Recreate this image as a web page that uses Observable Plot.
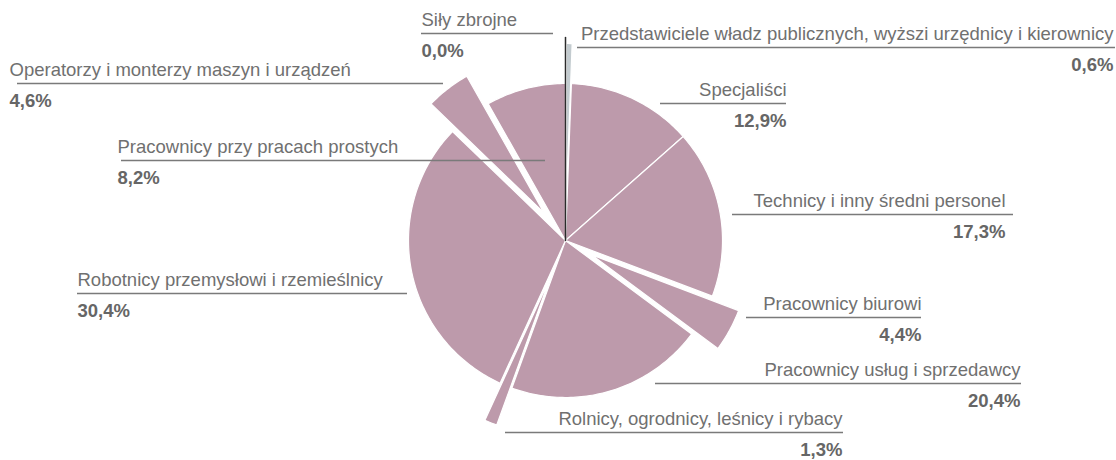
<!DOCTYPE html>
<html><head><meta charset="utf-8">
<script src="https://cdn.jsdelivr.net/npm/d3@7"></script>
<script src="https://cdn.jsdelivr.net/npm/@observablehq/plot@0.6"></script>
<style>body{margin:0;background:#fff}</style>
</head><body><div id="chart"></div>
<script>
// ---- data ----
const categories = [
  "Siły zbrojne",
  "Przedstawiciele władz publicznych, wyższi urzędnicy i kierownicy",
  "Specjaliści",
  "Technicy i inny średni personel",
  "Pracownicy biurowi",
  "Pracownicy usług i sprzedawcy",
  "Rolnicy, ogrodnicy, leśnicy i rybacy",
  "Robotnicy przemysłowi i rzemieślnicy",
  "Operatorzy i monterzy maszyn i urządzeń",
  "Pracownicy przy pracach prostych"
];
const shares = [0.0, 0.6, 12.9, 17.3, 4.4, 20.4, 1.3, 30.4, 4.6, 8.2];
const valueLabels = ["0,0%", "0,6%", "12,9%", "17,3%", "4,4%", "20,4%", "1,3%", "30,4%", "4,6%", "8,2%"];

// ---- styling / layout ----
const W = 1116, H = 460;
const cx = 565, cy = 240, R = 157;
const explode = [40, 40, 0, 0, 30, 0, 40, 0, 35, 0];
const sliceColors = ["#2b2b2b", "#c3cbcf", "#bd9aab", "#bd9aab", "#bd9aab", "#bd9aab", "#bd9aab", "#bd9aab", "#bd9aab", "#bd9aab"];
const labelLayout = [
  {align: "start", x: 421, ly: 33, lx1: 421, lx2: 553},
  {align: "end", x: 1113, ly: 47, lx1: 577, lx2: 1115},
  {align: "end", x: 786, ly: 103, lx1: 660, lx2: 786},
  {align: "end", x: 1005, ly: 214, lx1: 732, lx2: 1013},
  {align: "end", x: 921, ly: 317, lx1: 746, lx2: 921},
  {align: "end", x: 1020, ly: 383, lx1: 655, lx2: 1021},
  {align: "end", x: 842, ly: 432, lx1: 505, lx2: 843},
  {align: "start", x: 77, ly: 293, lx1: 77, lx2: 407},
  {align: "start", x: 9, ly: 83, lx1: 17, lx2: 443},
  {align: "start", x: 117, ly: 160, lx1: 121, lx2: 545}
];

// ---- build slice polygons from the shares ----
const total = d3.sum(shares);
let acc = 0;
const slices = shares.map((v, i) => {
  const a0 = acc / total * 2 * Math.PI;
  acc += v;
  const a1 = acc / total * 2 * Math.PI;
  return {i, name: categories[i], a0, a1, off: explode[i], color: sliceColors[i]};
});
const polyRows = [];
for (const s of slices) {
  if (s.a1 - s.a0 <= 0) continue;
  const mid = (s.a0 + s.a1) / 2;
  const ox = cx + s.off * Math.sin(mid), oy = cy - s.off * Math.cos(mid);
  const n = Math.max(2, Math.ceil((s.a1 - s.a0) / (Math.PI / 180)));
  polyRows.push({name: s.name, color: s.color, x: ox, y: oy});
  for (let k = 0; k <= n; k++) {
    const a = s.a0 + (s.a1 - s.a0) * k / n;
    polyRows.push({name: s.name, color: s.color, x: ox + R * Math.sin(a), y: oy - R * Math.cos(a)});
  }
  polyRows.push({name: s.name, color: s.color, x: ox, y: oy});
}
// zero-size slices drawn as a radial line
const zeroRows = slices.filter(s => s.a1 - s.a0 <= 0).flatMap(s => [
  {name: s.name, x: cx, y: cy},
  {name: s.name, x: cx + (R + s.off + 6) * Math.sin(s.a0), y: cy - (R + s.off + 6) * Math.cos(s.a0)}
]);

const labels = categories.map((c, i) => ({name: c, value: valueLabels[i], ...labelLayout[i]}));
const startL = labels.filter(d => d.align === "start");
const endL = labels.filter(d => d.align === "end");

const font = "'Liberation Sans', Arial, Helvetica, sans-serif";
const fs = 18.5;
const chart = Plot.plot({
  width: W, height: H,
  margin: 0,
  style: {fontFamily: font, background: "#fff"},
  x: {domain: [0, W], range: [0, W], axis: null},
  y: {domain: [0, H], range: [0, H], axis: null},
  color: {type: "identity"},
  marks: [
    Plot.line(polyRows, {x: "x", y: "y", z: "name", fill: "color", stroke: "#fff", strokeWidth: 1.2, curve: "linear"}),
    Plot.line(zeroRows, {x: "x", y: "y", z: "name", stroke: "#2b2b2b", strokeWidth: 1.5}),
    Plot.ruleY(labels, {y: "ly", x1: "lx1", x2: "lx2", stroke: "#7a7a7a", strokeWidth: 1.5}),
    Plot.text(startL, {x: "x", y: "ly", text: "name", textAnchor: "start", dy: -13.5, fill: "#707070", fontSize: fs}),
    Plot.text(startL, {x: "x", y: "ly", text: "value", textAnchor: "start", dy: 18, fill: "#666", fontSize: fs, fontWeight: "bold"}),
    Plot.text(endL, {x: "x", y: "ly", text: "name", textAnchor: "end", dy: -13.5, fill: "#707070", fontSize: fs}),
    Plot.text(endL, {x: "x", y: "ly", text: "value", textAnchor: "end", dy: 18, fill: "#666", fontSize: fs, fontWeight: "bold"})
  ]
});
document.getElementById("chart").append(chart);
</script>
</body></html>
